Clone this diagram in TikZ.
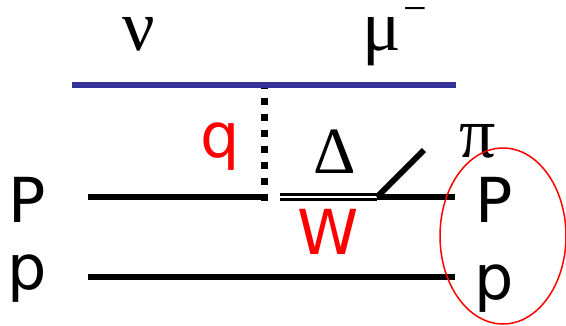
\documentclass[tikz,border=0pt]{standalone}
\usepackage{fontspec}
\setmainfont{DejaVu Sans}
\newfontfamily\greekfont{Liberation Serif}
\usetikzlibrary{positioning,shapes.geometric}
\definecolor{leptonblue}{RGB}{51,51,153}

\begin{document}
\begin{tikzpicture}[x=1pt,y=-1pt,
  lbl/.style={font=\fontsize{62}{62}\selectfont,inner sep=0pt,anchor=base},
  glbl/.style={font=\greekfont\fontsize{72}{72}\selectfont,inner sep=0pt,anchor=base},
  hadron/.style={line width=6pt},
  boson/.style={line width=7pt,dash pattern=on 7pt off 9pt}]
  \useasboundingbox (0,0) rectangle (566,325);

  % points on the lines
  \coordinate (nuL) at (72,85);
  \coordinate (muR) at (456,85);
  \coordinate (qtop) at (264,81);
  \coordinate (qbot) at (264,197);
  \coordinate (PL) at (88,197);
  \coordinate (WL) at (280,197);
  \coordinate (dec) at (377,197);
  \coordinate (PR) at (455,197);
  \coordinate (piend) at (424,150);
  \coordinate (pL) at (88,277);
  \coordinate (pR) at (455,277);

  % labels
  \node[glbl] (nu) at (139,50) {ν};
  \node[glbl] (mu) at (382,50) {μ};
  \node[inner sep=0pt,font=\greekfont\fontsize{42}{42}\selectfont] (minus) at (415,15) {−};
  \node[glbl,font=\greekfont\fontsize{66}{66}\selectfont] (Delta) at (335,173) {Δ};
  \node[glbl] (pi) at (478,157) {π};
  \node[lbl,text=red] (q) at (220,157) {q};
  \node[lbl,text=red] (W) at (328,254) {W};
  \node[lbl] (Pin) at (27,222) {P};
  \node[lbl] (pin) at (27,289) {p};
  \node[lbl] (Pout) at (494,222) {P};
  \node[lbl] (pout) at (494,299) {p};

  % exchanged boson
  \draw[boson] ([yshift=-3.5pt]qbot) -- (qtop);

  % lepton line
  \draw[leptonblue,line width=6pt] (nuL) -- (muR);

  % nucleon lines
  \draw[hadron] (PL) -- (qbot);
  \draw[double,line width=2.4pt,double distance=2.6pt] (WL) -- (dec);
  \draw[hadron] (dec) -- (PR);
  \draw[hadron] (dec) -- (piend);
  \draw[hadron] (pL) -- (pR);

  % final state
  \node[ellipse,draw=red,line width=1.5pt,minimum width=126pt,minimum height=176pt,inner sep=0pt] (fin) at (503,236) {};
\end{tikzpicture}
\end{document}
